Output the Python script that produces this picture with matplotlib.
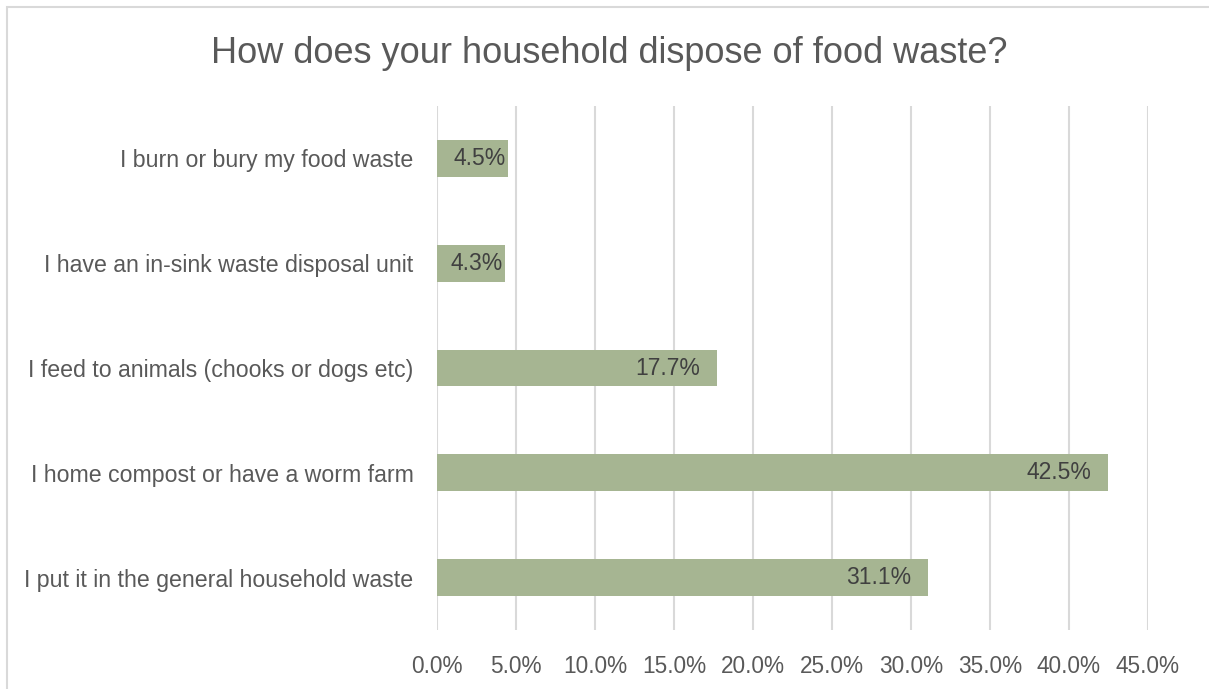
import matplotlib.pyplot as plt
from matplotlib.patches import Rectangle
from matplotlib.ticker import MultipleLocator, FuncFormatter

plt.rcParams['font.family'] = ['Liberation Sans', 'DejaVu Sans']

categories = [
    'I burn or bury my food waste',
    'I have an in-sink waste disposal unit',
    'I feed to animals (chooks or dogs etc)',
    'I home compost or have a worm farm',
    'I put it in the general household waste',
]
shares = [4.5, 4.3, 17.7, 42.5, 31.1]

fig = plt.figure(figsize=(12.09, 6.89), dpi=100)
ax = fig.add_axes([0.3615, 0.0856, 0.588, 0.7605])

# chart border like an Excel chart area
fig.patches.append(Rectangle((7 / 1209, -0.1), 1.2, 1 - 7 / 689 + 0.1,
                             transform=fig.transFigure, fill=False,
                             edgecolor='#D9D9D9', linewidth=1.5))

ypos = range(len(categories))
bars = ax.barh(ypos, shares, height=0.35, color='#A6B592', zorder=2)
for b, v in zip(bars, shares):
    # excel keeps short labels tight against the bar end
    gap = 1.07 if v > 10 else 0.15
    ax.text(b.get_width() - gap, b.get_y() + b.get_height() / 2, f'{v:.1f}%',
            ha='right', va='center', fontsize=16.5, color='#404040', zorder=3)

ax.set_yticks(list(ypos))
ax.set_yticklabels(categories, fontsize=16.7)
ax.set_ylim(len(categories) - 0.5, -0.5)
ax.set_xlim(0, 45)
ax.xaxis.set_major_locator(MultipleLocator(5))
ax.xaxis.set_major_formatter(FuncFormatter(lambda x, p: f'{x:.1f}%'))
ax.grid(axis='x', color='#D9D9D9', linewidth=1.5, zorder=0)
for s in ax.spines.values():
    s.set_visible(False)
ax.tick_params(axis='both', length=0, labelcolor='#595959')
ax.tick_params(axis='x', labelsize=16.3, pad=18)
ax.tick_params(axis='y', pad=17)

fig.text(0.504, 0.922, 'How does your household dispose of food waste?',
         ha='center', va='center', fontsize=26, color='#595959')

fig.savefig('out.png', dpi=100)
